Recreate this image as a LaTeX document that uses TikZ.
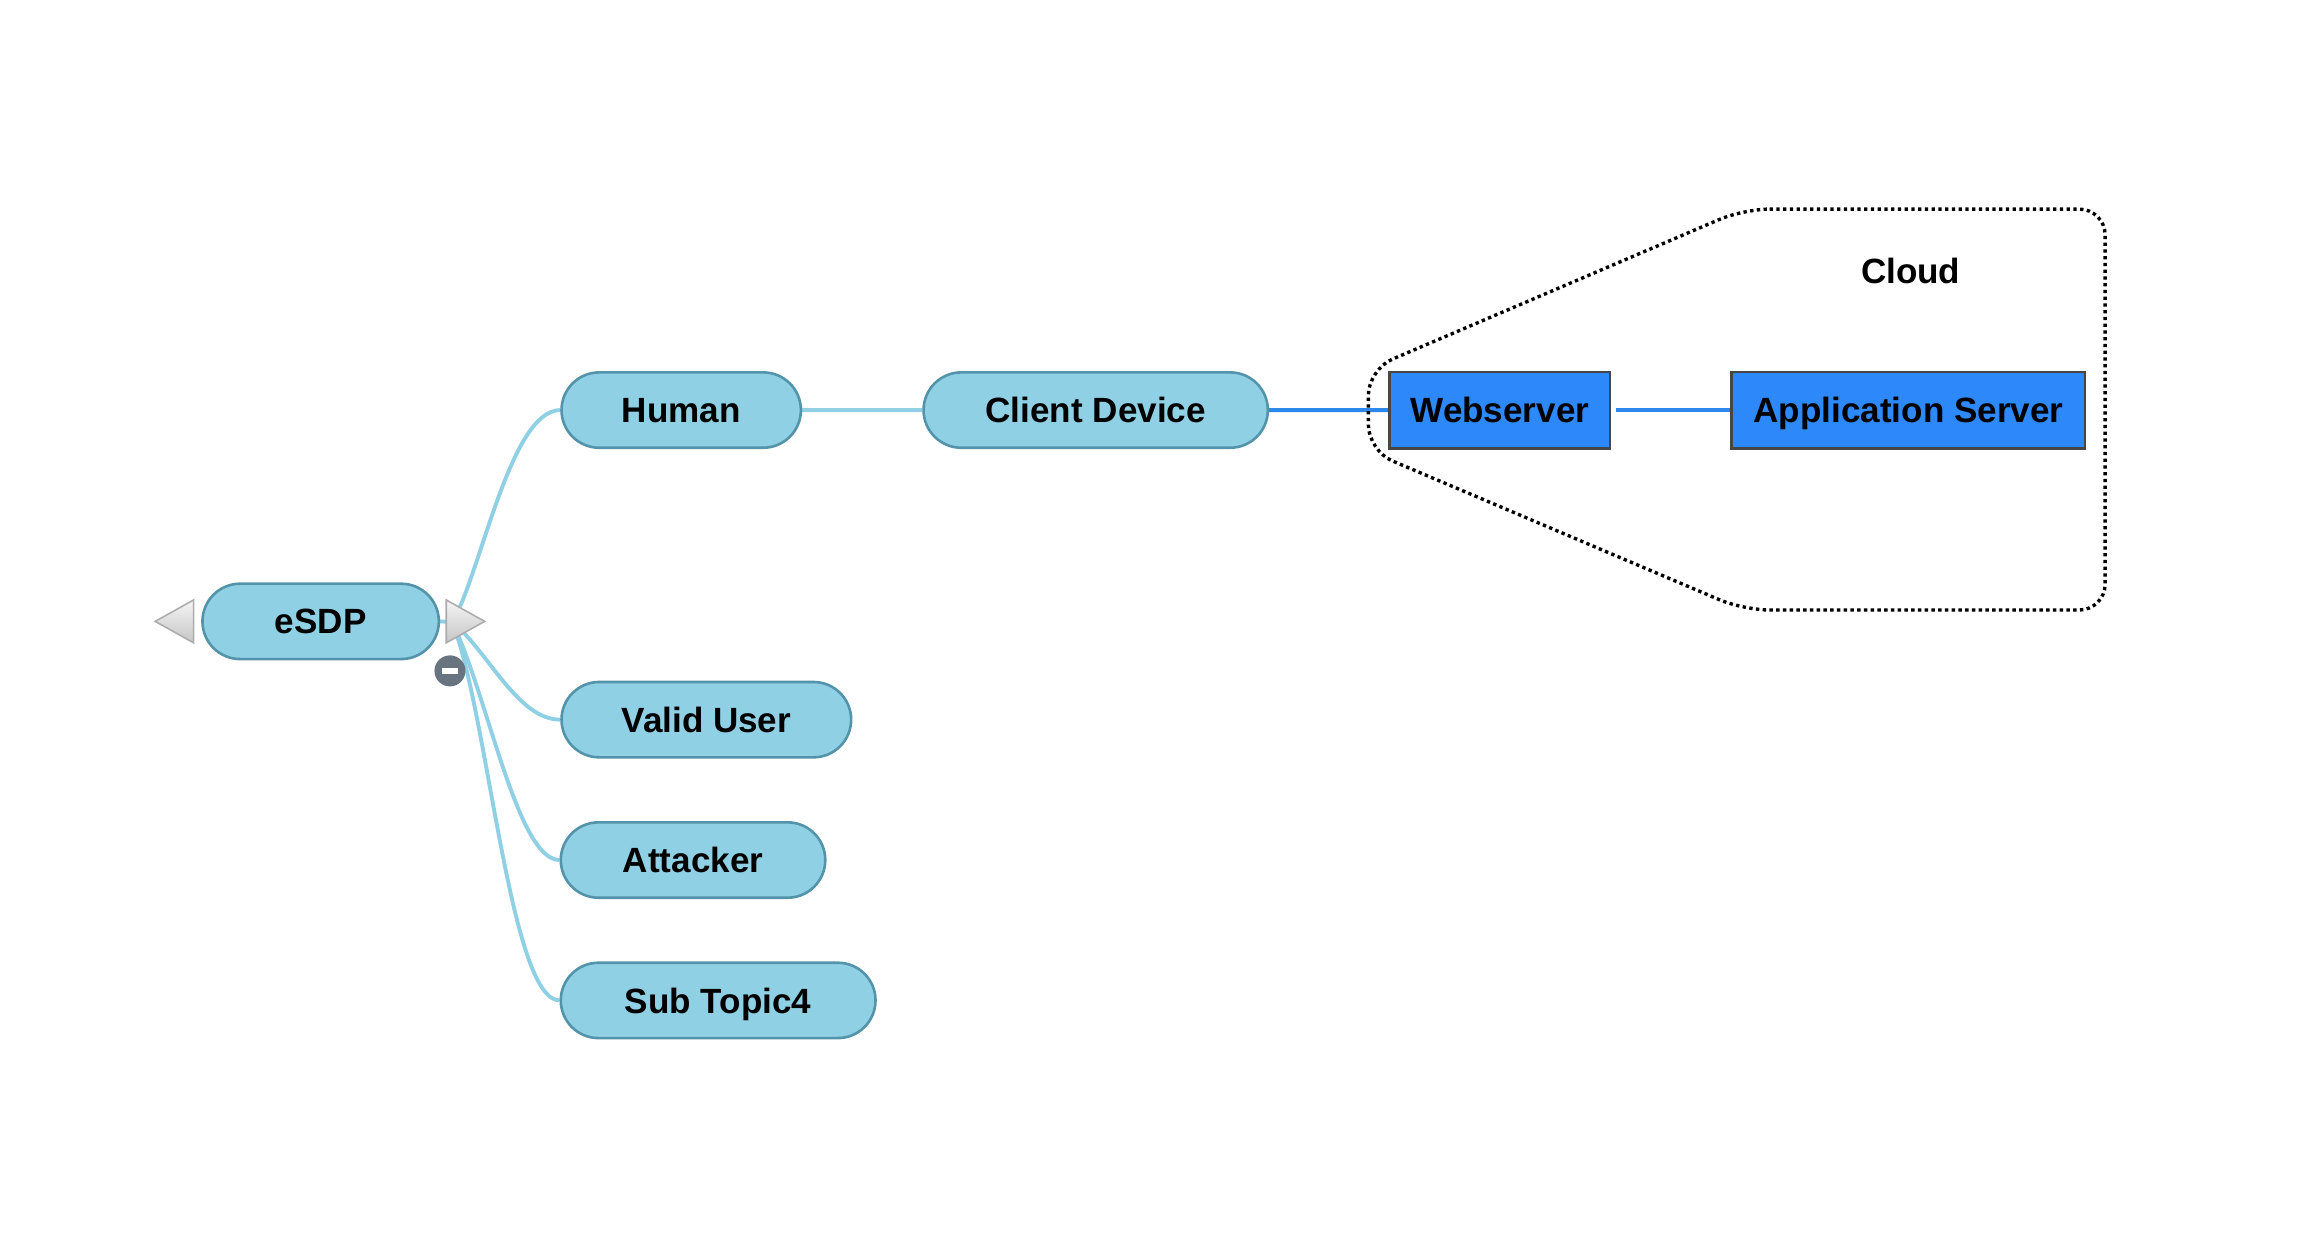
\documentclass[tikz,border=0pt]{standalone}
\usepackage{fontspec}
\setmainfont{Liberation Sans}
\usepackage{tikz}
\usetikzlibrary{shapes,arrows,backgrounds,positioning,fit}

\definecolor{TopicFill}{RGB}{143,208,228}
\definecolor{TopicLine}{RGB}{84,148,170}
\definecolor{LinkBlue}{RGB}{44,136,236}
\definecolor{BoxBlue}{RGB}{45,137,250}
\definecolor{BoxLine}{RGB}{70,70,70}
\definecolor{KnobGray}{RGB}{104,116,128}

\begin{document}
\begin{tikzpicture}[x=0.2mm,y=-0.2mm]
			\tikzstyle{Label}	= [font=\bfseries\fontsize{13.5}{16}\selectfont, text height=9.7pt, text depth=0pt]
			\tikzstyle{Topic}	= [rounded rectangle, draw=TopicLine, fill=TopicFill, line width=1pt, minimum height=10.2mm, inner sep=0pt, Label]
			\tikzstyle{Server}	= [rectangle, draw=BoxLine, fill=BoxBlue, line width=1.1pt, minimum height=10.3mm, inner sep=0pt, Label]
			\tikzstyle{Branch}	= [TopicFill, line width=1.5pt]
			\tikzstyle{Link}	= [LinkBlue, line width=1.5pt]
			\tikzstyle{Knob}	= [draw=gray!65, top color=gray!8, bottom color=gray!45, line width=0.6pt]
			\tikzstyle{CloudLine}	= [black, line width=1.3pt, dash pattern=on 1.3pt off 1.3pt, rounded corners=3.5mm]

			\useasboundingbox (0,0) rectangle (1568,840.5);

			% topics
			\foreach \n/\x/\y/\w/\t in {root/217/420.5/160/eSDP, human/461/277.5/162/Human, client/741.5/277.5/233/Client Device, valid/478/487/196/Valid User, attacker/469/582/179/Attacker, sub/486/677/213/Sub Topic4}
				\node (\n) at (\x, \y) [Topic, minimum width=\w*0.2mm] {\t};

			% servers
			\node (web) at (1015, 277.5) [Server, minimum width=149*0.2mm] {Webserver};
			\node (app) at (1291.5, 277.5) [Server, minimum width=239*0.2mm] {Application Server};

			% cloud
			\draw [CloudLine] (1180,141.5) -- (1424.6,141.5) -- (1424.6,412.8) -- (1180,412.8) -- (926,305) -- (926,250) -- cycle;
			\node (cloud) at (1293, 183) [Label] {Cloud};

			% knobs
			\coordinate (hub) at (306, 421);
			\path [Knob] (131,406) -- (105,420.5) -- (131,435) -- cycle;
			\path [Knob] (302,406) -- (328,420.5) -- (302,435) -- cycle;
			\node (fold) at (304.5, 454) [circle, fill=KnobGray, minimum size=4.2mm, inner sep=0pt] {};
			\fill [white] ([xshift=-1.1mm, yshift=-0.4mm]fold.center) rectangle ([xshift=1.1mm, yshift=0.4mm]fold.center);

			\begin{pgfonlayer}{background}
				\draw [Branch] (root.east) -- (hub);
				\foreach \n/\a/\b/\c/\d in {human/325/390/345/277.5, valid/330/440/350/487, attacker/330/470/350/582, sub/330/480/345/677}
					\draw [Branch] (hub) .. controls (\a,\b) and (\c,\d) .. (\n.west);
				\draw [Branch] (human) -- (client);
				\draw [Link] (client) -- (web);
				\draw [Link, shorten <=0.6mm] (web) -- (app);
			\end{pgfonlayer}
		\end{tikzpicture}
\end{document}
